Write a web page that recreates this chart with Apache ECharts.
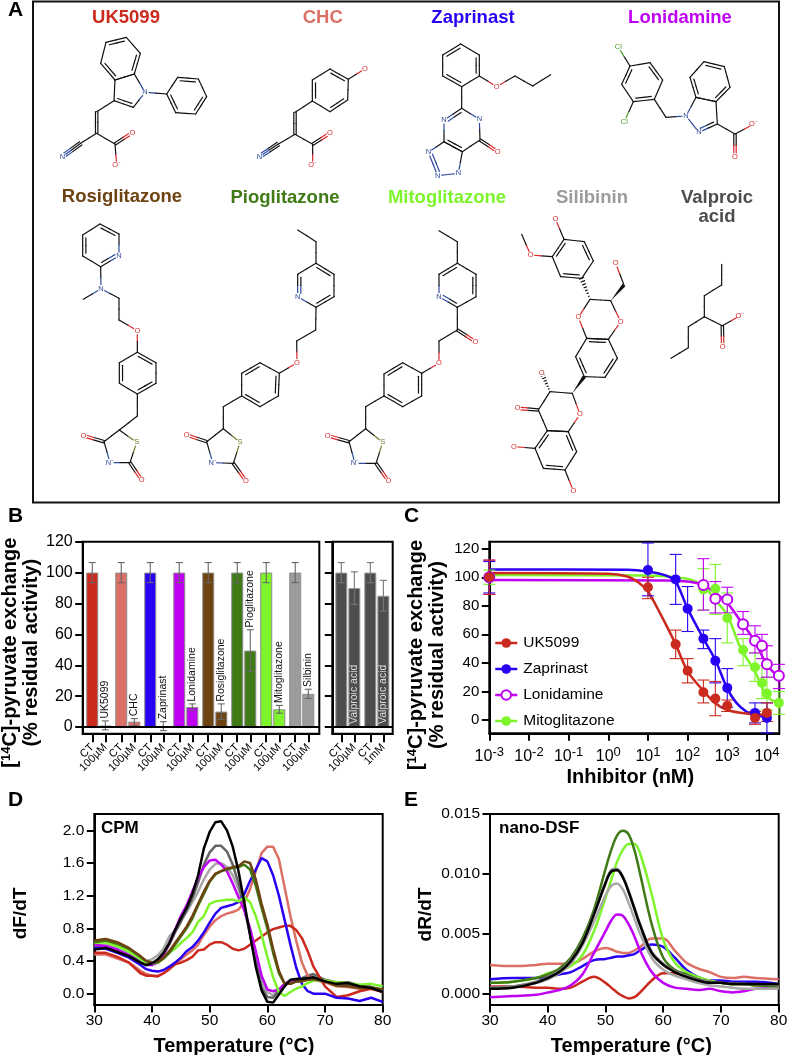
<!DOCTYPE html>
<html>
<head>
<meta charset="utf-8">
<title>Inhibitors</title>
<style>
html, body { margin: 0; padding: 0; background: #fff; }
#main { width: 787px; height: 1055px; }
</style>
<script src="https://cdn.jsdelivr.net/npm/echarts@6/dist/echarts.min.js"></script>
</head>
<body>
<div id="main"></div>
<script>
// colours of the compounds
var RED = '#cb2a1e', SALMON = '#dc6f66', BLUE = '#2a00f5', MAGENTA = '#bf00f5', BROWN = '#6e4312',
	DKGREEN = '#3f7a14', LTGREEN = '#7df52a', LTGRAY = '#9c9c9c', DKGRAY = '#4d4d4d';

// panel B
var drugNames = ['UK5099', 'CHC', 'Zaprinast', 'Lonidamine', 'Rosiglitazone', 'Pioglitazone', 'Mitoglitazone', 'Silbinin'];
var drugColors = [RED, SALMON, BLUE, MAGENTA, BROWN, DKGREEN, LTGREEN, LTGRAY];
var ctValue = 100, ctLow = 93.5, ctHigh = 106.5;
var drugValues = [1, 3.5, 0.5, 13, 10, 49.5, 11.5, 21.5];
var drugLow = [-1.8, 1, -2.3, 11, 5, 36, 9, 18.5];
var drugHigh = [4, 5.5, 3.5, 15, 15, 63, 14, 24.5];
var barSlots = [0, 1, 2, 3, 4, 5, 6, 7];
var treatedOffset = 0.45;
var valproicPos = [0, 0.45, 1, 1.45];
var valproicValues = [100, 90, 100, 85];
var valproicLow = [93.5, 79.5, 93.5, 75];
var valproicHigh = [106.5, 100.5, 106.5, 95];
var valproicTicks = ['CT', '100µM', 'CT', '1mM'];
var percentTicks = [0, 20, 40, 60, 80, 100, 120];

// panel C
var ukX = [0.001, 10, 50, 100, 250, 500, 1000, 5000, 10000];
var ukY = [100, 93, 53, 34.5, 19.5, 15, 10, 1.5, 5];
var ukLow = [88, 85, 43, 26, 12, 3, 6, -3, -1];
var ukHigh = [112, 100, 63, 43, 28, 27, 14, 6, 12];
var zapX = [0.001, 10, 50, 100, 250, 500, 1000, 5000, 10000];
var zapY = [100, 105, 98.5, 78, 57, 41.5, 22.5, 5, 1.5];
var zapLow = [89, 87, 81, 62, 50, 26, 9, -2, -9];
var zapHigh = [111, 124, 116, 93.5, 63, 57, 36, 12, 12];
var lonX = [0.001, 250, 500, 1000, 2500, 5000, 7500, 10000, 20000];
var lonY = [100, 94.5, 85, 84.5, 67, 55.5, 52, 39, 31];
var lonLow = [88, 77, 75, 75, 60, 47, 43, 30, 22];
var lonHigh = [112, 113, 97, 93, 76, 66, 60, 52, 39];
var mitX = [0.001, 250, 500, 1000, 2500, 5000, 7500, 10000, 20000];
var mitY = [100, 91.5, 92, 71.5, 49, 37, 26, 18.5, 12];
var mitLow = [95, 77, 74, 54, 38, 27, 15, 7, 4];
var mitHigh = [105, 106, 109, 89, 57, 47, 38, 30, 20];
// fitted curves
var ukCurveX = [0.001, 1, 3, 6, 10, 20, 50, 100, 200, 500, 1000, 3000, 10000];
var ukCurveY = [103, 102.5, 100.5, 96, 90, 75, 53, 34, 23.5, 11.7, 7, 4.5, 3.5];
var zapCurveX = [0.001, 3, 10, 30, 50, 100, 200, 250, 500, 1000, 1700, 3000, 5000, 10000];
var zapCurveY = [105.5, 105.3, 104, 101, 97, 78, 62, 57, 42, 22, 12, 6, 3.5, 2];
var lonCurveX = [0.001, 30, 100, 250, 500, 1000, 2200, 5000, 10000, 20000];
var lonCurveY = [98, 97.8, 97, 94.5, 89, 82, 69, 55, 38.5, 30];
var mitCurveX = [0.001, 10, 50, 130, 250, 500, 1000, 2200, 5000, 10000, 20000];
var mitCurveY = [101.5, 101.3, 100, 98, 94, 84, 73.5, 50, 34, 16.5, 12];
var residualTicks = [0, 20, 40, 60, 80, 100, 120];
var logTicks = [0.001, 0.01, 0.1, 1, 10, 100, 1000, 10000];

// panel D
var cpmT = [30, 32, 34, 36, 38, 39, 40, 41, 42, 43, 44, 45, 46, 47, 48, 49, 50, 51, 52, 53, 54, 55, 56, 57, 58, 59, 60, 61, 62, 63, 64, 65, 66, 67, 68, 70, 72, 74, 76, 78, 80];
var cpmBlack = [.54, .56, .51, .46, .38, .35, .37, .42, .50, .62, .78, .92, 1.05, 1.22, 1.45, 1.78, 1.98, 2.10, 2.11, 2.00, 1.80, 1.50, 1.12, .72, .33, .04, -.10, -.11, -.01, .09, .17, .18, .18, .19, .20, .15, .12, .13, .09, .07, .02];
var cpmDkGray = [.57, .58, .53, .47, .40, .37, .37, .41, .48, .60, .75, .88, 1.02, 1.17, 1.36, 1.58, 1.73, 1.81, 1.81, 1.74, 1.58, 1.35, 1.05, .72, .38, .08, -.04, -.05, .04, .12, .16, .18, .19, .22, .24, .17, .14, .14, .10, .08, .03];
var cpmLtGray = [.58, .60, .55, .49, .42, .40, .42, .47, .55, .70, .78, .90, 1.00, 1.12, 1.25, 1.40, 1.52, 1.59, 1.60, 1.55, 1.45, 1.28, 1.05, .78, .45, .15, .02, -.02, .05, .12, .16, .17, .18, .20, .22, .16, .13, .13, .10, .08, .04];
var cpmMagenta = [.60, .58, .54, .47, .39, .35, .35, .38, .48, .62, .78, .95, 1.08, 1.25, 1.42, 1.55, 1.63, 1.64, 1.58, 1.50, 1.35, 1.18, 1.02, .80, .52, .22, .05, .03, .05, .12, .16, .17, .17, .18, .19, .15, .12, .10, .09, .08, .03];
var cpmBrown = [.65, .67, .63, .56, .46, .40, .38, .39, .44, .52, .62, .72, .82, .95, 1.10, 1.25, 1.38, 1.47, 1.50, 1.53, 1.55, 1.56, 1.62, 1.60, 1.40, 1.10, .85, .55, .28, .12, .12, .15, .15, .17, .18, .15, .10, .09, .07, .07, .05];
var cpmDkGreen = [.63, .65, .61, .55, .45, .40, .38, .38, .43, .50, .60, .70, .80, .92, 1.08, 1.22, 1.37, 1.46, 1.50, 1.52, 1.54, 1.55, 1.58, 1.52, 1.32, 1.05, .80, .50, .25, .12, .12, .15, .16, .17, .18, .15, .10, .10, .08, .08, .05];
var cpmLtGreen = [.62, .63, .58, .52, .42, .38, .37, .38, .43, .50, .55, .62, .68, .75, .88, .95, 1.10, 1.13, 1.14, 1.15, 1.15, 1.13, 1.18, 1.12, .95, .72, .45, .20, .02, -.03, .02, .06, .09, .13, .16, .16, .14, .13, .11, .12, .09];
var cpmBlue = [.56, .55, .50, .44, .35, .30, .28, .27, .29, .33, .38, .44, .52, .57, .65, .75, .87, .98, 1.05, 1.07, 1.09, 1.12, 1.22, 1.38, 1.52, 1.66, 1.62, 1.45, 1.20, .90, .60, .32, .12, .03, 0, 0, -.05, -.06, -.09, -.05, -.10];
var cpmSalmon = [.48, .48, .43, .38, .28, .24, .22, .22, .25, .30, .36, .42, .48, .53, .60, .72, .82, .90, .95, .98, 1.00, 1.03, 1.12, 1.28, 1.50, 1.72, 1.80, 1.80, 1.65, 1.30, .95, .65, .38, .22, .17, .14, .09, .08, .06, .06, .03];
var cpmRed = [.50, .50, .45, .38, .25, .22, .22, .21, .25, .30, .36, .38, .41, .45, .53, .54, .60, .63, .63, .60, .55, .53, .55, .60, .65, .70, .75, .79, .81, .83, .83, .78, .68, .52, .33, .09, -.04, -.02, .03, .06, .02];
var cpmYTicks = [0, 0.4, 0.8, 1.2, 1.6, 2.0];

// panel E
var dsfT = [30, 34, 38, 40, 42, 44, 46, 48, 50, 51, 52, 53, 54, 55, 56, 58, 60, 62, 64, 66, 68, 70, 72, 74, 76, 80];
var dsfDkGreen = [.0009, .0010, .0013, .0016, .0021, .0030, .0046, .0070, .0104, .0120, .0132, .0136, .0133, .0120, .0100, .0058, .0030, .0020, .0016, .0012, .0010, .0009, .0008, .0008, .0007, .0006];
var dsfLtGreen = [.0009, .0010, .0013, .0017, .0019, .0023, .0032, .0052, .0080, .0095, .0110, .0120, .0125, .0125, .0117, .0083, .0045, .0026, .0018, .0014, .0011, .0009, .0008, .0008, .0007, .0006];
var dsfBlack = [.0004, .0005, .0009, .0013, .0018, .0027, .0042, .0066, .0092, .0102, .0103, .0097, .0085, .0071, .0057, .0034, .0024, .0018, .0014, .0011, .0009, .0009, .0008, .0008, .0008, .0008];
var dsfDkGray = [.0005, .0006, .0010, .0014, .0019, .0028, .0043, .0067, .0093, .0103, .0104, .0098, .0086, .0072, .0058, .0035, .0025, .0019, .0015, .0012, .0010, .0009, .0008, .0008, .0008, .0007];
var dsfLtGray = [.0005, .0006, .0009, .0012, .0017, .0025, .0040, .0060, .0082, .0090, .0092, .0087, .0076, .0063, .0050, .0030, .0020, .0015, .0012, .0009, .0007, .0006, .0005, .0004, .0004, .0004];
var dsfMagenta = [-.0003, -.0002, -.0001, .0001, .0003, .0007, .0016, .0034, .0052, .0061, .0066, .0065, .0058, .0048, .0036, .0018, .0009, .0005, .0004, .0003, .0004, .0002, .0001, .0002, .0004, .0005];
var dsfSalmon = [.0024, .0023, .0024, .0025, .0025, .0025, .0029, .0035, .0038, .0037, .0035, .0034, .0034, .0036, .0039, .0046, .0046, .0036, .0026, .0021, .0018, .0014, .0013, .0014, .0013, .0012];
var dsfBlue = [.0012, .0013, .0013, .0014, .0016, .0018, .0023, .0028, .0029, .0030, .0031, .0031, .0032, .0033, .0036, .0041, .0039, .0030, .0020, .0014, .0011, .0011, .0010, .0010, .0010, .0008];
var dsfRed = [.0006, .0006, .0005, .0005, .0004, .0005, .0010, .0014, .0009, .0005, .0001, -.0002, -.0004, -.0003, .0001, .0011, .0017, .0017, .0015, .0012, .0010, .0009, .0008, .0008, .0007, .0008];
var dsfYTicks = [0, 0.005, 0.01, 0.015];

var FONT = '"Liberation Sans", Arial, sans-serif';

function zip(a, b) {
	return a.map(function(v, i) { return [v, b[i]]; });
}

// ---- chemical structures, drawn as plain graphic elements (zoomed-crop coordinates / 3) ----
var molGraphics = [];
var atomColors = { N: '#2f4b9c', 'N-': '#2f4b9c', O: '#d8282a', 'O-': '#d8282a', S: '#77772a', Cl: '#4a9a2a' };
var atomText = { N: 'N', 'N-': 'N⁻', O: 'O', 'O-': 'O⁻', S: 'S', Cl: 'Cl' };
var BOND = '#111';
var origin = [0, 0];
var seenAtoms = {};
function at(ox, oy) { origin = [ox, oy]; }
function P(p) { return [origin[0] + p[0] / 3, origin[1] + p[1] / 3]; }
function rawLine(a, b, color) {
	molGraphics.push({ type: 'line', silent: true, z: 3, shape: { x1: a[0], y1: a[1], x2: b[0], y2: b[1] }, style: { stroke: color, lineWidth: 1.2, lineCap: 'round' } });
}
function segment(a, b, p, q) {
	var ca = p[2] ? atomColors[p[2]] : BOND, cb = q[2] ? atomColors[q[2]] : BOND;
	var m = [(a[0] + b[0]) / 2, (a[1] + b[1]) / 2];
	rawLine(a, m, ca);
	rawLine(m, b, cb);
}
function label(p) {
	if (!p[2]) return;
	var xy = P(p), key = xy.join();
	if (seenAtoms[key]) return;
	seenAtoms[key] = 1;
	molGraphics.push({ type: 'circle', silent: true, z: 4, shape: { cx: xy[0], cy: xy[1], r: 3.6 }, style: { fill: '#fff' } });
	molGraphics.push({ type: 'text', silent: true, z: 5, x: xy[0], y: xy[1], style: { text: atomText[p[2]], fill: atomColors[p[2]], font: '7.5px ' + FONT, align: 'center', verticalAlign: 'middle' } });
}
function chain(pts) {
	for (var i = 0; i < pts.length - 1; i++) segment(P(pts[i]), P(pts[i + 1]), pts[i], pts[i + 1]);
	pts.forEach(label);
}
function offsetLine(p, q, d, shrink) {
	var a = P(p), b = P(q), dx = b[0] - a[0], dy = b[1] - a[1], l = Math.sqrt(dx * dx + dy * dy);
	var nx = -dy / l * d, ny = dx / l * d, sx = dx * shrink, sy = dy * shrink;
	segment([a[0] + nx + sx, a[1] + ny + sy], [b[0] + nx - sx, b[1] + ny - sy], p, q);
}
function dbl(p, q) {
	offsetLine(p, q, 1.2, 0);
	offsetLine(p, q, -1.2, 0);
	label(p); label(q);
}
function tri(p, q) {
	offsetLine(p, q, 0, 0);
	offsetLine(p, q, 2, 0);
	offsetLine(p, q, -2, 0);
	label(p); label(q);
}
function ring(pts, doubles) {
	var cx = 0, cy = 0;
	pts.forEach(function(p) { cx += p[0] / pts.length; cy += p[1] / pts.length; });
	chain(pts.concat([pts[0]]));
	(doubles || []).forEach(function(i) {
		var p = pts[i], q = pts[(i + 1) % pts.length];
		var dx = q[0] - p[0], dy = q[1] - p[1], side = (-dy * (cx - p[0]) + dx * (cy - p[1])) > 0 ? 1 : -1;
		offsetLine(p, q, 3.2 * side, 0.13);
	});
}
function wedge(p, q) {
	var a = P(p), b = P(q), dx = b[0] - a[0], dy = b[1] - a[1], l = Math.sqrt(dx * dx + dy * dy);
	var nx = -dy / l * 1.9, ny = dx / l * 1.9;
	molGraphics.push({ type: 'polygon', silent: true, z: 3, shape: { points: [a, [b[0] + nx, b[1] + ny], [b[0] - nx, b[1] - ny]] }, style: { fill: '#111' } });
}
function hash(p, q) {
	var a = P(p), b = P(q), dx = b[0] - a[0], dy = b[1] - a[1], l = Math.sqrt(dx * dx + dy * dy);
	for (var i = 1; i <= 7; i++) {
		var t = i / 7, w = 2.2 * t;
		var c = [a[0] + dx * t, a[1] + dy * t], nx = -dy / l * w, ny = dx / l * w;
		rawLine([c[0] + nx, c[1] + ny], [c[0] - nx, c[1] - ny], BOND);
	}
	label(p); label(q);
}
function tzd(top, s, c, n, co, o1, o2) {
	ring([top, s, c, n, co]);
	dbl(co, o1);
	dbl(c, o2);
}

at(30, 0); // UK5099
ring([[228, 127], [289, 112], [331, 160], [313, 222], [255, 240], [212, 190]], [0, 2, 4]);
ring([[313, 222], [345, 277, 'N'], [310, 322], [252, 302], [255, 240]], [2]);
chain([[345, 277, 'N'], [410, 282]]);
ring([[410, 282], [443, 232], [505, 237], [530, 290], [497, 342], [437, 338]], [1, 3, 5]);
chain([[252, 302], [200, 335]]);
dbl([200, 335], [200, 400]);
chain([[200, 400], [152, 430]]);
tri([152, 430], [97, 470, 'N']);
chain([[200, 400], [255, 432]]);
dbl([255, 432], [307, 398, 'O']);
chain([[255, 432], [260, 495, 'O-']]);
// CHC
ring([[847, 240], [900, 207], [955, 238], [953, 300], [900, 335], [847, 303]], [1, 3, 5]);
chain([[955, 238], [1005, 206, 'O']]);
chain([[847, 303], [795, 337]]);
dbl([795, 337], [795, 403]);
chain([[795, 403], [745, 432]]);
tri([745, 432], [688, 470, 'N']);
chain([[795, 403], [848, 433]]);
dbl([848, 433], [900, 400, 'O']);
chain([[848, 433], [848, 495, 'O-']]);

at(400, 0); // Zaprinast
ring([[182, 132], [238, 165], [238, 228], [185, 260], [128, 228], [128, 165]], [1, 3, 5]);
chain([[238, 228], [290, 260, 'O'], [345, 228], [398, 258], [452, 224]]);
chain([[185, 260], [185, 325]]);
ring([[185, 325], [238, 358, 'N'], [240, 420], [187, 455], [132, 425], [132, 360, 'N']], [3, 5]);
dbl([240, 420], [293, 455, 'O']);
ring([[132, 425], [85, 457, 'N'], [113, 527, 'N'], [175, 520, 'N'], [187, 455]], [1]);
// Lonidamine
ring([[690, 198], [750, 188], [788, 240], [763, 298], [700, 305], [665, 253]], [1, 3, 5]);
chain([[690, 198], [655, 142, 'Cl']]);
chain([[700, 305], [673, 365, 'Cl']]);
chain([[763, 298], [798, 352], [858, 348, 'N']]);
ring([[912, 185], [973, 200], [990, 262], [948, 305], [888, 292], [870, 232]], [0, 2, 4]);
ring([[858, 348, 'N'], [897, 397, 'N'], [952, 372], [948, 305], [888, 292]], [1]);
chain([[952, 372], [1005, 402]]);
dbl([1005, 402], [1005, 470, 'O']);
chain([[1005, 402], [1060, 373, 'O-']]);

at(30, 180); // Rosiglitazone
ring([[210, 132], [267, 162], [267, 228, 'N'], [212, 260], [158, 228], [158, 165]], [0, 2, 4]);
chain([[212, 260], [213, 326, 'N']]);
chain([[213, 326, 'N'], [160, 358]]);
chain([[213, 326, 'N'], [267, 355], [267, 420], [322, 452, 'O'], [322, 517]]);
ring([[322, 517], [378, 548], [378, 610], [322, 642], [268, 610], [268, 548]], [0, 2, 4]);
chain([[322, 642], [322, 708], [268, 750]]);
tzd([268, 750], [320, 787, 'S'], [300, 848], [240, 848, 'N-'], [222, 785], [160, 767, 'O'], [335, 900, 'O']);
// Pioglitazone
chain([[803, 150], [858, 185], [858, 250]]);
ring([[858, 250], [912, 283], [912, 350], [858, 382], [803, 350, 'N'], [803, 283]], [0, 2, 4]);
chain([[858, 382], [857, 450], [800, 483], [801, 548, 'O'], [748, 580]]);
ring([[748, 580], [745, 648], [690, 680], [635, 648], [635, 580], [690, 548]], [0, 2, 4]);
chain([[635, 648], [580, 680], [580, 746]]);
tzd([580, 746], [630, 787, 'S'], [610, 850], [548, 848, 'N-'], [530, 785], [470, 765, 'O'], [648, 903, 'O']);

at(370, 180); // Mitoglitazone
chain([[207, 152], [262, 185], [262, 250]]);
ring([[262, 250], [318, 283], [318, 350], [262, 382], [207, 350, 'N'], [207, 283]], [1, 3, 5]);
chain([[262, 382], [262, 450], [207, 483], [207, 550, 'O'], [155, 580]]);
dbl([262, 450], [316, 485, 'O']);
ring([[155, 580], [155, 648], [98, 680], [42, 648], [42, 582], [98, 548]], [0, 2, 4]);
chain([[42, 648], [-13, 680], [-13, 746]]);
tzd([-13, 746], [38, 787, 'S'], [18, 850], [-45, 850, 'N-'], [-63, 785], [-127, 767, 'O'], [55, 903, 'O']);
// Silibinin
chain([[556, 116, 'O'], [582, 178]]);
ring([[582, 178], [643, 185], [670, 243], [635, 295], [572, 290], [547, 230]], [1, 3, 5]);
chain([[547, 230], [482, 225, 'O'], [455, 163]]);
hash([660, 358], [635, 295]);
ring([[660, 358], [722, 362], [752, 425, 'O'], [715, 478], [650, 475], [625, 412, 'O']]);
wedge([722, 362], [762, 315]);
chain([[762, 315], [737, 250, 'O']]);
ring([[650, 475], [715, 478], [742, 535], [705, 592], [643, 590], [617, 530]], [0, 2, 4]);
wedge([607, 640], [643, 590]);
ring([[607, 640], [630, 703, 'O'], [595, 755], [532, 752], [505, 690], [540, 635]]);
hash([540, 635], [515, 578, 'O']);
dbl([505, 690], [442, 685, 'O']);
ring([[595, 755], [620, 815], [585, 870], [520, 865], [495, 805], [532, 752]], [0, 2, 4]);
chain([[495, 805], [432, 800, 'O']]);
chain([[585, 870], [610, 933, 'O']]);
// Valproic acid
chain([[1055, 253], [1055, 315], [1003, 347], [1003, 410], [955, 440], [955, 503], [903, 535]]);
chain([[1003, 410], [1057, 437]]);
dbl([1057, 437], [1058, 500, 'O']);
chain([[1057, 437], [1110, 407, 'O-']]);

// ---- page level texts ----
var panelLetters = [['A', 8, 10], ['B', 8, 516], ['C', 404, 516], ['D', 8, 800], ['E', 404, 800]];
var compoundTitles = [
	['UK5099', 126, 18, RED], ['CHC', 322.7, 18, SALMON], ['Zaprinast', 473, 18, BLUE], ['Lonidamine', 680, 18, MAGENTA],
	['Rosiglitazone', 122, 197, BROWN], ['Pioglitazone', 285, 198, DKGREEN], ['Mitoglitazone', 447, 198, LTGREEN],
	['Silibinin', 592, 198, LTGRAY], ['Valproic\nacid', 717, 207, DKGRAY]
];
var pageGraphics = [{ type: 'rect', silent: true, shape: { x: 33, y: 1.5, width: 746, height: 501 }, style: { fill: 'none', stroke: '#111', lineWidth: 2 } }];
panelLetters.forEach(function(l) {
	pageGraphics.push({ type: 'text', silent: true, x: l[1], y: l[2], style: { text: l[0], fill: '#000', font: 'bold 21px ' + FONT, verticalAlign: 'middle' } });
});
compoundTitles.forEach(function(t) {
	pageGraphics.push({ type: 'text', silent: true, x: t[1], y: t[2], style: { text: t[0], fill: t[3], font: 'bold 18.5px ' + FONT, align: 'center', verticalAlign: 'middle', lineHeight: 19 } });
});
[['CPM', 101, 828], ['nano-DSF', 499, 828]].forEach(function(t) {
	pageGraphics.push({ type: 'text', silent: true, z: 10, x: t[1], y: t[2], style: { text: t[0], fill: '#000', font: 'bold 17px ' + FONT, verticalAlign: 'middle' } });
});

// ---- helpers for the axes ----
var AXIS_LABEL = { color: '#000', fontSize: 15.5, fontFamily: FONT };
var TICK = { show: true, length: 7.5, lineStyle: { color: '#000', width: 2 } };

function titleStyle(pad) {
	return { color: '#000', fontSize: 20, fontWeight: 'bold', fontFamily: FONT, padding: pad };
}
function exchangeStyle(pad) {
	return {
		color: '#000', fontSize: 20, fontWeight: 'bold', fontFamily: FONT, lineHeight: 21, align: 'center', padding: pad,
		rich: { sup: { fontSize: 13, fontWeight: 'bold', fontFamily: FONT, padding: [0, 0, 8, 0] } }
	};
}
var EXCHANGE_NAME = '[{sup|14}C]-pyruvate exchange\n(% residual activity)';

function errorRender(capW, color, fontColor) {
	return function(params, api) {
		var x = api.value(0), low = api.coord([x, api.value(1)]), high = api.coord([x, api.value(2)]);
		var c = color || api.visual('color');
		var st = { stroke: c, lineWidth: 1.1 };
		var kids = [
			{ type: 'line', shape: { x1: low[0], y1: low[1], x2: high[0], y2: high[1] }, style: st },
			{ type: 'line', shape: { x1: low[0] - capW, y1: low[1], x2: low[0] + capW, y2: low[1] }, style: st },
			{ type: 'line', shape: { x1: high[0] - capW, y1: high[1], x2: high[0] + capW, y2: high[1] }, style: st }
		];
		var text = api.value(3);
		if (text && fontColor) {
			var anchor = api.coord([x, api.value(4)]);
			kids.push({ type: 'text', x: anchor[0], y: anchor[1], rotation: Math.PI / 2,
				style: { text: text, fill: fontColor, font: '10.5px ' + FONT, align: 'left', verticalAlign: 'middle' } });
		}
		return { type: 'group', children: kids };
	};
}

// ---- panel B data assembly ----
var bLeftPos = [], bLeftBars = [], bLeftErr = [], bLeftTickText = {};
barSlots.forEach(function(s, i) {
	var t = s + treatedOffset;
	bLeftPos.push(s, t);
	bLeftTickText[s] = 'CT';
	bLeftTickText[t] = '100µM';
	bLeftBars.push({ value: [s, ctValue], itemStyle: { color: drugColors[i] } });
	bLeftBars.push({ value: [t, drugValues[i]], itemStyle: { color: drugColors[i] } });
	bLeftErr.push([s, ctLow, ctHigh, '', 0]);
	bLeftErr.push([t, drugLow[i], drugHigh[i], drugNames[i], drugHigh[i] + 1.5]);
});
var bRightBars = valproicPos.map(function(x, i) { return [x, valproicValues[i]]; });
var bRightErr = valproicPos.map(function(x, i) {
	return [x, valproicLow[i], valproicHigh[i], i % 2 ? 'Valproic acid' : '', 2];
});

function barAxisX(grid, min, max, ticks, textOf) {
	// blank labels at both axis ends, otherwise the end labels knock out their neighbours
	var labelAt = [min].concat(ticks, [max]);
	return {
		gridIndex: grid, type: 'value', min: min, max: max, splitLine: { show: false },
		axisLine: { onZero: false, lineStyle: { color: '#000', width: 2 } },
		axisTick: { show: true, length: 8.5, lineStyle: { color: '#000', width: 2 }, customValues: ticks },
		axisLabel: { customValues: labelAt, rotate: 45, fontSize: 11, lineHeight: 7, margin: 12, color: '#000', fontFamily: FONT, formatter: function(v) { return textOf(v) || ''; } }
	};
}

// ---- series builders for C, D, E ----
function curveSeries(name, xs, ys, color) {
	return { name: name + ' fit', type: 'line', xAxisIndex: 2, yAxisIndex: 2, data: zip(xs, ys), smooth: 0.3, showSymbol: false, silent: true,
		clip: true, lineStyle: { color: color, width: 2.5 }, itemStyle: { color: color }, z: 3 };
}
function pointSeries(name, xs, ys, color, fill, z) {
	return { name: name, type: 'line', xAxisIndex: 2, yAxisIndex: 2, data: zip(xs, ys), symbol: 'circle', symbolSize: 10, showSymbol: true,
		clip: false, lineStyle: { color: color, width: 2.5, opacity: 0 }, itemStyle: { color: fill, borderColor: color, borderWidth: fill === color ? 0 : 2 }, z: z };
}
function errSeries(xs, low, high, color, z) {
	return { type: 'custom', xAxisIndex: 2, yAxisIndex: 2, clip: false, silent: true, z: z, renderItem: errorRender(6, color),
		encode: { x: 0, y: [1, 2] }, data: xs.map(function(x, i) { return [x, low[i], high[i]]; }) };
}
function tempSeries(xi, yi, t, vals, color, smooth) {
	return { type: 'line', xAxisIndex: xi, yAxisIndex: yi, data: zip(t, vals), showSymbol: false, silent: true, smooth: smooth,
		lineStyle: { color: color, width: 2.5 }, itemStyle: { color: color } };
}
function tempAxisX(grid, pad) {
	return { gridIndex: grid, type: 'value', min: 30, max: 80, interval: 10, splitLine: { show: false },
		name: 'Temperature (°C)', nameLocation: 'middle', nameGap: 31, nameTextStyle: titleStyle(pad),
		axisLine: { onZero: false, lineStyle: { color: '#000', width: 2 } }, axisTick: TICK, axisLabel: AXIS_LABEL };
}

var series = [
	// B left
	{ type: 'bar', xAxisIndex: 0, yAxisIndex: 0, barWidth: 12, data: bLeftBars, silent: true,
		itemStyle: { borderColor: '#8c8c8c', borderWidth: 1 },
		markLine: { silent: true, symbol: 'none', label: { show: false }, lineStyle: { color: '#000', width: 2, type: 'solid' }, data: [{ yAxis: 0 }], animation: false } },
	{ type: 'custom', xAxisIndex: 0, yAxisIndex: 0, silent: true, clip: false, z: 4, renderItem: errorRender(3.5, '#666', '#111'), encode: { x: 0, y: [1, 2] }, data: bLeftErr },
	// B right
	{ type: 'bar', xAxisIndex: 1, yAxisIndex: 1, barWidth: 12, data: bRightBars, silent: true,
		itemStyle: { color: DKGRAY, borderColor: '#9a9a9a', borderWidth: 1 },
		markLine: { silent: true, symbol: 'none', label: { show: false }, lineStyle: { color: '#000', width: 2, type: 'solid' }, data: [{ yAxis: 0 }], animation: false } },
	{ type: 'custom', xAxisIndex: 1, yAxisIndex: 1, silent: true, clip: false, z: 4, renderItem: errorRender(3.5, '#777', '#dcdcdc'), encode: { x: 0, y: [1, 2] }, data: bRightErr },
	// C, drawn back to front
	curveSeries('Mitoglitazone', mitCurveX, mitCurveY, LTGREEN),
	curveSeries('Lonidamine', lonCurveX, lonCurveY, MAGENTA),
	curveSeries('Zaprinast', zapCurveX, zapCurveY, BLUE),
	curveSeries('UK5099', ukCurveX, ukCurveY, RED),
	errSeries(mitX, mitLow, mitHigh, LTGREEN, 4),
	errSeries(lonX, lonLow, lonHigh, MAGENTA, 4),
	errSeries(zapX, zapLow, zapHigh, BLUE, 4),
	errSeries(ukX, ukLow, ukHigh, RED, 4),
	pointSeries('Mitoglitazone', mitX, mitY, LTGREEN, LTGREEN, 5),
	pointSeries('Lonidamine', lonX, lonY, MAGENTA, '#fff', 6),
	pointSeries('Zaprinast', zapX, zapY, BLUE, BLUE, 7),
	pointSeries('UK5099', ukX, ukY, RED, RED, 8),
	// D
	tempSeries(3, 3, cpmT, cpmLtGray, '#a8a8a8', false),
	tempSeries(3, 3, cpmT, cpmDkGray, '#666', false),
	tempSeries(3, 3, cpmT, cpmSalmon, SALMON, false),
	tempSeries(3, 3, cpmT, cpmRed, RED, false),
	tempSeries(3, 3, cpmT, cpmBlue, BLUE, false),
	tempSeries(3, 3, cpmT, cpmMagenta, MAGENTA, false),
	tempSeries(3, 3, cpmT, cpmLtGreen, LTGREEN, false),
	tempSeries(3, 3, cpmT, cpmDkGreen, DKGREEN, false),
	tempSeries(3, 3, cpmT, cpmBrown, BROWN, false),
	tempSeries(3, 3, cpmT, cpmBlack, '#000', false),
	// E
	tempSeries(4, 4, dsfT, dsfSalmon, SALMON, 0.35),
	tempSeries(4, 4, dsfT, dsfBlue, BLUE, 0.35),
	tempSeries(4, 4, dsfT, dsfRed, RED, 0.35),
	tempSeries(4, 4, dsfT, dsfMagenta, MAGENTA, 0.35),
	tempSeries(4, 4, dsfT, dsfLtGreen, LTGREEN, 0.35),
	tempSeries(4, 4, dsfT, dsfDkGreen, DKGREEN, 0.35),
	tempSeries(4, 4, dsfT, dsfLtGray, '#a8a8a8', 0.35),
	tempSeries(4, 4, dsfT, dsfDkGray, '#777', 0.35),
	tempSeries(4, 4, dsfT, dsfBlack, '#000', 0.35)
];

function frame(left, top, right, bottom) {
	// outerBoundsMode none: keep the frames where they are set, do not squeeze them for the axis names
	return { left: left, top: top, width: right - left, height: bottom - top, show: true, borderColor: '#000', borderWidth: 2, backgroundColor: 'transparent', containLabel: false, outerBoundsMode: 'none' };
}

var option = {
	animation: false,
	textStyle: { fontFamily: FONT },
	grid: [
		frame(82.7, 541.7, 319.3, 733.7),
		frame(332.3, 541.7, 392.7, 733.7),
		frame(489.3, 541.7, 779.3, 733.3),
		frame(94.3, 814, 382.7, 1005),
		frame(490, 814, 778.7, 1005)
	],
	legend: {
		data: ['UK5099', 'Zaprinast', 'Lonidamine', 'Mitoglitazone'],
		orient: 'vertical', left: 494, top: 635, itemWidth: 22, itemHeight: 12, itemGap: 10, padding: 0,
		lineStyle: { width: 2.5, opacity: 1 },
		textStyle: { color: '#000', fontSize: 15.5, fontFamily: FONT, padding: [0, 0, 0, 1] },
		selectedMode: false
	},
	xAxis: [
		barAxisX(0, -0.33, 7.83, bLeftPos, function(v) { return bLeftTickText[v]; }),
		barAxisX(1, -0.31, 1.772, valproicPos, function(v) { return valproicTicks[valproicPos.indexOf(v)]; }),
		{ gridIndex: 2, type: 'log', logBase: 10, min: 0.001, max: 20500, splitLine: { show: false }, minorTick: { show: false },
			name: 'Inhibitor (nM)', nameLocation: 'middle', nameGap: 34, nameTextStyle: titleStyle([0, 8, 0, 0]),
			axisLine: { onZero: false, lineStyle: { color: '#000', width: 2 } }, axisTick: { show: true, length: 7.5, lineStyle: { color: '#000', width: 2 }, customValues: logTicks },
			axisLabel: { customValues: logTicks, color: '#000', fontSize: 16, fontFamily: FONT, margin: 13, showMinLabel: true, showMaxLabel: true,
				formatter: function(v) { return '10{sup|' + Math.round(Math.log10(v)) + '}'; },
				rich: { sup: { fontSize: 13, fontFamily: FONT, color: '#000', padding: [0, 0, 8, 0] } } } },
		tempAxisX(3, [0, 9, 0, 0]),
		tempAxisX(4, [0, 6, 0, 0])
	],
	yAxis: [
		{ gridIndex: 0, type: 'value', min: -4.3, max: 120, splitLine: { show: false },
			name: EXCHANGE_NAME, nameLocation: 'middle', nameRotate: 90, nameGap: 40, nameTextStyle: exchangeStyle([0, 30, 0, 0]),
			axisLine: { show: true, onZero: false, lineStyle: { color: '#000', width: 2 } },
			axisTick: { show: true, length: 7.5, lineStyle: { color: '#000', width: 2 }, customValues: percentTicks },
			axisLabel: { customValues: percentTicks, color: '#000', fontSize: 16, fontFamily: FONT, margin: 10 } },
		{ gridIndex: 1, type: 'value', min: -4.3, max: 120, splitLine: { show: false },
			axisLine: { show: true, onZero: false, lineStyle: { color: '#000', width: 2 } },
			axisTick: { show: true, length: 7.5, lineStyle: { color: '#000', width: 2 }, customValues: percentTicks },
			axisLabel: { show: false } },
		{ gridIndex: 2, type: 'value', min: -9.3, max: 124.9, splitLine: { show: false },
			name: EXCHANGE_NAME, nameLocation: 'middle', nameRotate: 90, nameGap: 41, nameTextStyle: exchangeStyle([0, 35, 0, 0]),
			axisLine: { show: true, onZero: false, lineStyle: { color: '#000', width: 2 } },
			axisTick: { show: true, length: 7.5, lineStyle: { color: '#000', width: 2 }, customValues: residualTicks },
			axisLabel: { customValues: residualTicks, color: '#000', fontSize: 15, fontFamily: FONT, margin: 10 } },
		{ gridIndex: 3, type: 'value', min: -0.139, max: 2.2, splitLine: { show: false },
			name: 'dF/dT', nameLocation: 'middle', nameRotate: 90, nameGap: 64, nameTextStyle: { color: '#000', fontSize: 19, fontWeight: 'bold', fontFamily: FONT, padding: [0, 8, 0, 0] },
			axisLine: { show: true, onZero: false, lineStyle: { color: '#000', width: 2 } },
			axisTick: { show: true, length: 7.5, lineStyle: { color: '#000', width: 2 }, customValues: cpmYTicks },
			axisLabel: { customValues: cpmYTicks, color: '#000', fontSize: 15.5, fontFamily: FONT, margin: 10, formatter: function(v) { return v.toFixed(1); } } },
		{ gridIndex: 4, type: 'value', min: -0.00095, max: 0.015, splitLine: { show: false },
			name: 'dR/dT', nameLocation: 'middle', nameRotate: 90, nameGap: 55, nameTextStyle: { color: '#000', fontSize: 19, fontWeight: 'bold', fontFamily: FONT, padding: [0, 10, 0, 0] },
			axisLine: { show: true, onZero: false, lineStyle: { color: '#000', width: 2 } },
			axisTick: { show: true, length: 7.5, lineStyle: { color: '#000', width: 2 }, customValues: dsfYTicks },
			axisLabel: { customValues: dsfYTicks, color: '#000', fontSize: 15.5, fontFamily: FONT, margin: 10, formatter: function(v) { return v.toFixed(3); } } }
	],
	series: series,
	graphic: { elements: pageGraphics.concat(molGraphics) }
};

echarts.init(document.getElementById('main'), null, { renderer: 'canvas' }).setOption(option);
</script>
</body>
</html>
